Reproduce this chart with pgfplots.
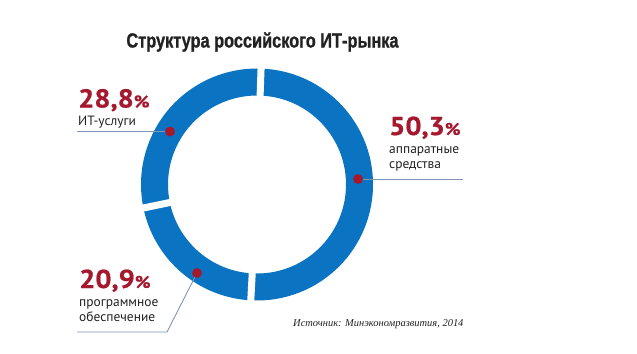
\documentclass[border=0pt]{standalone}
\usepackage{pgfplots}
\pgfplotsset{compat=1.18}
\usepackage{pgfplotstable}
\usepackage{fontspec}
\setmainfont{PT Sans}
\newfontfamily\titlefont[FakeStretch=0.8,FakeBold=1]{Liberation Sans}
\newfontfamily\numfont[FakeStretch=1.1,FakeBold=0.8]{PT Sans}
\newfontfamily\srcfont{Liberation Serif}
\definecolor{ringblue}{HTML}{0A74C2}
\definecolor{numred}{HTML}{A5192F}
\definecolor{leader}{HTML}{8094B4}
\definecolor{txt}{HTML}{222222}

\pgfplotstableread{
seg share
hw 50.3
sw 20.9
it 28.8
}\shares

\begin{document}
\begin{tikzpicture}[x=1bp,y=1bp]
\useasboundingbox (0,0) rectangle (637,353);
\pgfplotstablegetelem{0}{share}\of\shares \let\hwv\pgfplotsretval
\pgfplotstablegetelem{1}{share}\of\shares \let\swv\pgfplotsretval
\pgfplotstablegetelem{2}{share}\of\shares \let\itv\pgfplotsretval
\pgfmathsetmacro{\aA}{88}
\pgfmathsetmacro{\aB}{\aA-3.6*\hwv}
\pgfmathsetmacro{\aC}{\aB-3.6*\swv}
\pgfmathsetmacro{\aD}{\aC-3.6*\itv}
\begin{axis}[width=637bp, height=353bp, scale only axis,
  xmin=0, xmax=637, ymin=0, ymax=353, y dir=reverse,
  hide axis, clip=false, at={(0,0)}, anchor=south west]
% ring segments
\draw[ringblue, line width=27bp] ([shift={(\aA:102.5bp)}]axis cs:257,184.5) arc[start angle=\aA, end angle=\aB, radius=102.5bp];
\draw[ringblue, line width=27bp] ([shift={(\aB:102.5bp)}]axis cs:257,184.5) arc[start angle=\aB, end angle=\aC, radius=102.5bp];
\draw[ringblue, line width=27bp] ([shift={(\aC:102.5bp)}]axis cs:257,184.5) arc[start angle=\aC, end angle=\aD, radius=102.5bp];
% gaps
\draw[white, line width=7bp] ([shift={(\aA:80bp)}]axis cs:257,184.5) -- ([shift={(\aA:125bp)}]axis cs:257,184.5);
\draw[white, line width=7bp] ([shift={(\aB:80bp)}]axis cs:257,184.5) -- ([shift={(\aB:125bp)}]axis cs:257,184.5);
\draw[white, line width=7bp] ([shift={(\aC:80bp)}]axis cs:257,184.5) -- ([shift={(\aC:125bp)}]axis cs:257,184.5);
% leader lines
\addplot[leader, line width=0.9bp] coordinates {(77,131.5) (170,131.5)};
\addplot[leader, line width=0.9bp] coordinates {(358,179) (463,179)};
\addplot[leader, line width=0.9bp] coordinates {(197,273) (167,332) (77,332)};
% dots
\addplot[only marks, mark=*, mark size=4.7bp, numred, mark options={draw=numred, fill=numred}] coordinates {(170,131.5) (358,179) (197,273)};
% title
\node[anchor=base, inner sep=0, txt] at (axis cs:262.5,47.5) {\titlefont\bfseries\fontsize{20.5}{20.5}\selectfont Структура российского ИТ-рынка};
% labels
\node[anchor=base west, inner sep=0, numred] at (axis cs:78,107.5) {\numfont\bfseries\fontsize{26}{26}\selectfont 28,8\fontsize{17}{17}\selectfont\%};
\node[anchor=base west, inner sep=0, txt] at (axis cs:78,125) {\fontsize{13.5}{13.5}\selectfont ИТ-услуги};
\node[anchor=base west, inner sep=0, numred] at (axis cs:389,135) {\numfont\bfseries\fontsize{26}{26}\selectfont 50,3\fontsize{17}{17}\selectfont\%};
\node[anchor=base west, inner sep=0, txt] at (axis cs:389,153) {\fontsize{13.5}{13.5}\selectfont аппаратные};
\node[anchor=base west, inner sep=0, txt] at (axis cs:389,168) {\fontsize{13.5}{13.5}\selectfont средства};
\node[anchor=base west, inner sep=0, numred] at (axis cs:79,288) {\numfont\bfseries\fontsize{26}{26}\selectfont 20,9\fontsize{17}{17}\selectfont\%};
\node[anchor=base west, inner sep=0, txt] at (axis cs:79,306) {\fontsize{13.5}{13.5}\selectfont программное};
\node[anchor=base west, inner sep=0, txt] at (axis cs:79,321.5) {\fontsize{13.5}{13.5}\selectfont обеспечение};
\node[anchor=base west, inner sep=0, txt] at (axis cs:293,326) {\srcfont\itshape\fontsize{10.5}{10.5}\selectfont Источник: Минэкономразвития, 2014};
\end{axis}
\end{tikzpicture}
\end{document}
